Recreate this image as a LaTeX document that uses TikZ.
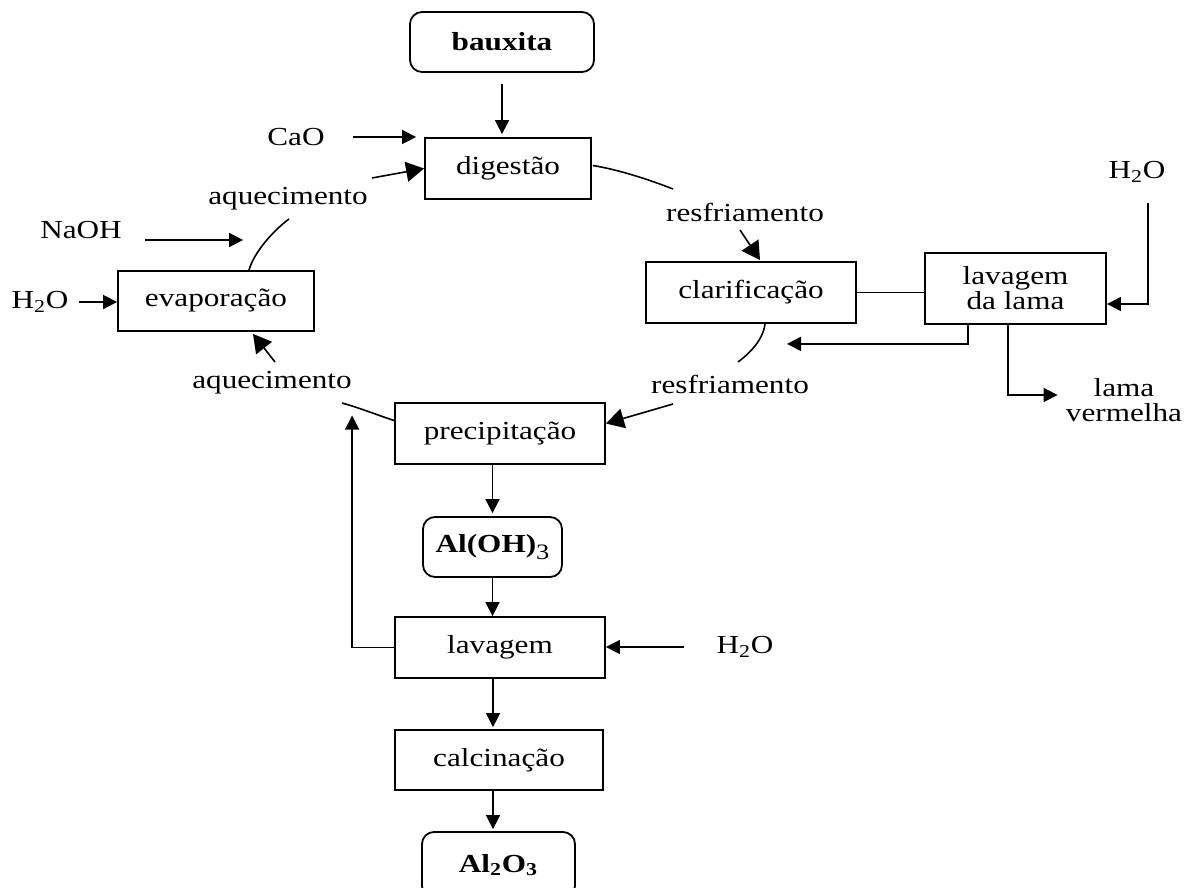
\documentclass[tikz,border=0pt]{standalone}
\usepackage{fontspec}
\setmainfont{Liberation Serif}[FakeStretch=1.2]
\usetikzlibrary{arrows.meta,calc}
\newcommand\myfont{\fontsize{13}{12.5}\selectfont}
\tikzset{
  proc/.style={draw, line width=0.9pt, inner sep=0pt, font=\myfont, align=center},
  rproc/.style={proc, rounded corners=6pt},
  lbl/.style={inner sep=2pt, font=\myfont, align=center},
  arr/.style={line width=0.8pt, -{Triangle[length=7pt,width=7pt]}},
  barr/.style={line width=0.8pt, -{Triangle[length=9pt,width=10pt]}},
  flow/.style={line width=0.8pt},
}
\begin{document}
\begin{tikzpicture}[x=0.5pt,y=-0.5pt]
\useasboundingbox (0,0) rectangle (1194,888);
\clip (0,0) rectangle (1194,888);
% boxes
\node[rproc, minimum width=92pt, minimum height=30pt] (bauxita) at (502,42) {\textbf{bauxita}};
\node[proc, minimum width=83pt, minimum height=30.5pt] (dig) at (508,168.5) {digestão};
\node[proc, minimum width=98pt, minimum height=30pt] (evap) at (216,301) {evaporação};
\node[proc, minimum width=105pt, minimum height=30.5pt] (clar) at (751,292.5) {clarificação};
\node[proc, minimum width=90.5pt, minimum height=35.5pt] (lama) at (1015.5,288.5) {lavagem\\da lama};
\node[proc, minimum width=105pt, minimum height=30.5pt] (prec) at (500,433.5) {precipitação};
\node[rproc, minimum width=69.5pt, minimum height=30pt] (aloh) at (492.5,547) {\textbf{Al(OH)}\raisebox{-0.3em}{\fontsize{11}{11}\selectfont 3}};
\node[proc, minimum width=105pt, minimum height=30.5pt] (lav) at (500,647.5) {lavagem};
\node[proc, minimum width=104pt, minimum height=30pt] (calc) at (499,760) {calcinação};
\node[rproc, minimum width=76.5pt, minimum height=33pt] (al2o3) at (498.5,865) {\textbf{Al\textsubscript{2}O\textsubscript{3}}};
% labels
\node[lbl] (cao) at (296,137) {CaO};
\node[lbl] (aq1) at (288,199) {aquecimento};
\node[lbl] (naoh) at (81,230) {NaOH};
\node[lbl] (h2oL) at (40,302) {H\textsubscript{2}O};
\node[lbl] (aq2) at (272,383) {aquecimento};
\node[lbl] (resf1) at (745,212) {resfriamento};
\node[lbl] (resf2) at (730,384) {resfriamento};
\node[lbl] (h2oR) at (1137,172) {H\textsubscript{2}O};
\node[lbl] (lv) at (1124,400) {lama\\vermelha};
\node[lbl] (h2oB) at (745,647) {H\textsubscript{2}O};
% connectors
\draw[arr] ($(bauxita.south)+(0,11)$) -- ($(bauxita.south |- dig.north)+(0,-3)$);
\draw[arr, shorten <=12pt, shorten >=4pt] (cao.east) -- (cao.east -| dig.west);
\draw[barr] ($(aq1.center)+(84,-21)$) -- (dig.west);
\draw[arr] ($(naoh.east)+(19,10)$) -- ++(98,0);
\draw[arr, shorten <=3pt] (h2oL.east) -- (evap.west |- h2oL.east);
\draw[flow] ($(evap.north)+(33,0)$) .. controls (254,252) and (274,230) .. ($(aq1.center)+(1,20)$);
\draw[barr] ($(aq2.center)+(3,-21)$) -- ($(evap.south)+(37,2)$);
\draw[flow] ($(prec.west)+(0,-13)$) .. controls (380,416) and (360,408) .. ($(aq2.center)+(70,20)$);
\draw[flow] ($(dig.east)+(1,-3)$) .. controls (620,170) and (650,180) .. ($(resf1.center)+(-72,-23)$);
\draw[barr] ($(resf1.center)+(-5,18)$) -- ($(clar.north)+(9,-1)$);
\draw[flow] ($(clar.south)+(14,0)$) .. controls (763,340) and (750,353) .. ($(resf2.center)+(8,-22)$);
\draw[barr] ($(resf2.center)+(-57,20)$) -- ($(prec.east)+(0,-10)$);
\draw[flow] (clar.east) -- (clar.east -| lama.west);
\draw[arr] ($(h2oR.south)+(11,16)$) |- ($(lama.east)+(0,15.5)$);
\draw[arr] ($(lama.south)+(-47.5,0)$) |- ($(clar.south)+(36,20)$);
\draw[arr] ($(lama.south)+(-7.5,0)$) |- ($(lv.west)+(-4,-5)$);
\draw[arr, shorten >=1.5pt] (prec.south -| aloh.north) -- (aloh.north);
\draw[arr] (aloh.south) -- (aloh.south |- lav.north);
\draw[arr] (lav.west) -| ($(prec.west)+(-42,-18)$);
\draw[arr, shorten <=14pt] (h2oB.west) -- (lav.east |- h2oB.west);
\draw[arr, shorten >=1pt] ($(lav.south)+(-7,0)$) -- ($(lav.south |- calc.north)+(-7,0)$);
\draw[arr, shorten >=1pt] ($(calc.south)+(-6,0)$) -- ($(calc.south |- al2o3.north)+(-6,0)$);
\end{tikzpicture}
\end{document}
